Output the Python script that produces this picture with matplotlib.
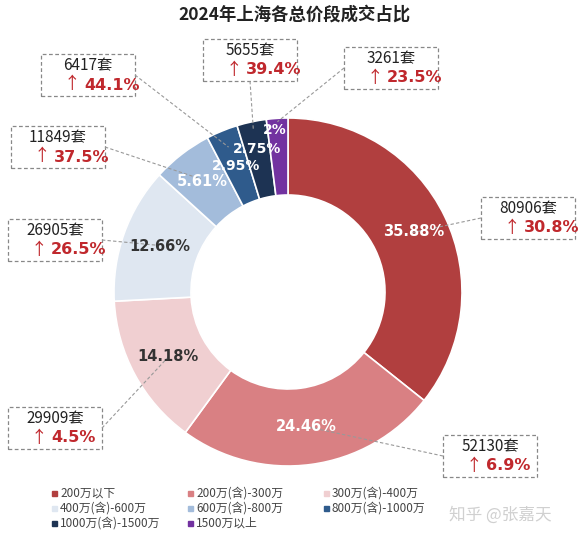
import matplotlib
matplotlib.use("Agg")
import matplotlib.pyplot as plt
import numpy as np
from matplotlib.patches import Rectangle

plt.rcParams['font.family'] = ['Noto Sans CJK SC', 'DejaVu Sans']

categories = ["200万以下", "200万(含)-300万", "300万(含)-400万", "400万(含)-600万",
              "600万(含)-800万", "800万(含)-1000万", "1000万(含)-1500万", "1500万以上"]
shares = [35.88, 24.46, 14.18, 12.66, 5.61, 2.95, 2.75, 2.0]
share_labels = ["35.88%", "24.46%", "14.18%", "12.66%", "5.61%", "2.95%", "2.75%", "2%"]
counts = ["80906套", "52130套", "29909套", "26905套", "11849套", "6417套", "5655套", "3261套"]
growth = ["30.8%", "6.9%", "4.5%", "26.5%", "37.5%", "44.1%", "39.4%", "23.5%"]
colors = ["#b13f3f", "#d98083", "#f0cfd1", "#dfe7f1", "#a3bcdb", "#2f5b8c", "#1d3353", "#7232a0"]
pct_colors = ["white", "white", "#333333", "#333333", "white", "white", "white", "white"]

W, H = 588, 539
fig = plt.figure(figsize=(W/100, H/100), dpi=100)
ax = fig.add_axes([0, 0, 1, 1])

cx, cy, R = 288, H - 292, 174
wedges, _ = ax.pie(shares, colors=colors, startangle=90, counterclock=False,
                   center=(cx, cy), radius=R, frame=True,
                   wedgeprops=dict(width=77, edgecolor='white', linewidth=1.2))
ax.set_xlim(0, W); ax.set_ylim(0, H); ax.set_aspect('equal'); ax.axis('off')

boxes = [(528, 218), (490, 456), (55, 428), (55, 240), (58, 147), (88, 75), (250, 60), (391, 68)]
lab_r = [140, 136, 136, 136, 140, 136, 146, 163]
lab_da = [0, 0, 0, 0, 0, 0, 0, 1]
lr = [0.78, 0.78, 0.78, 0.80, 0.82, 0.90, 0.95, 0.98]
for i, w in enumerate(wedges):
    ang = np.deg2rad((w.theta1 + w.theta2) / 2)
    a2 = ang + np.deg2rad(lab_da[i])
    lx, ly = cx + lab_r[i]*np.cos(a2), cy + lab_r[i]*np.sin(a2)
    ax.text(lx, ly, share_labels[i], ha='center', va='center',
            fontsize=10.5 if i < 5 else 10,
            fontweight='bold', color=pct_colors[i], family=['DejaVu Sans'], zorder=5)
    bx, by = boxes[i]
    by = H - by
    bw, bh = 94, 42
    ax.add_patch(Rectangle((bx-bw/2, by-bh/2), bw, bh, fill=False, edgecolor='#888888',
                           linestyle=(0, (3, 2)), linewidth=0.9))
    ax.text(bx, by+9, counts[i], ha='center', va='center', fontsize=11, color='#222222')
    ax.text(bx-8, by-10, "↑", ha='right', va='center', fontsize=12, color='#c0282d')
    ax.text(bx-4, by-10, growth[i], ha='left', va='center', fontsize=11.5, fontweight='bold',
            color='#c0282d', family=['DejaVu Sans'])
    ex, ey = cx + R*lr[i]*np.cos(ang), cy + R*lr[i]*np.sin(ang)
    sx = bx - bw/2 if ex < bx - bw/2 else (bx + bw/2 if ex > bx + bw/2 else bx)
    sy = by if sx != bx else (by - bh/2 if ey < by else by + bh/2)
    ax.plot([sx, ex], [sy, ey], color='#999999', linestyle=(0, (3, 2)), linewidth=0.8, zorder=4)

ax.text(W/2, H-15, "2024年上海各总价段成交占比", ha='center', va='center',
        fontsize=12.5, fontweight='bold', color='#222222')

cols_x = [52, 188, 324]
rows_y = [H-493, H-508, H-523]
for i, c in enumerate(categories):
    x = cols_x[i % 3]; y = rows_y[i // 3]
    ax.add_patch(Rectangle((x, y-2.5), 5, 5, color=colors[i]))
    ax.text(x+8, y, c, ha='left', va='center', fontsize=8.5, color='#444444')

ax.text(500, H-515, "知乎 @张嘉天", ha='center', va='center', fontsize=12, color='#d0d0d0')

fig.savefig("out.png", dpi=100)
